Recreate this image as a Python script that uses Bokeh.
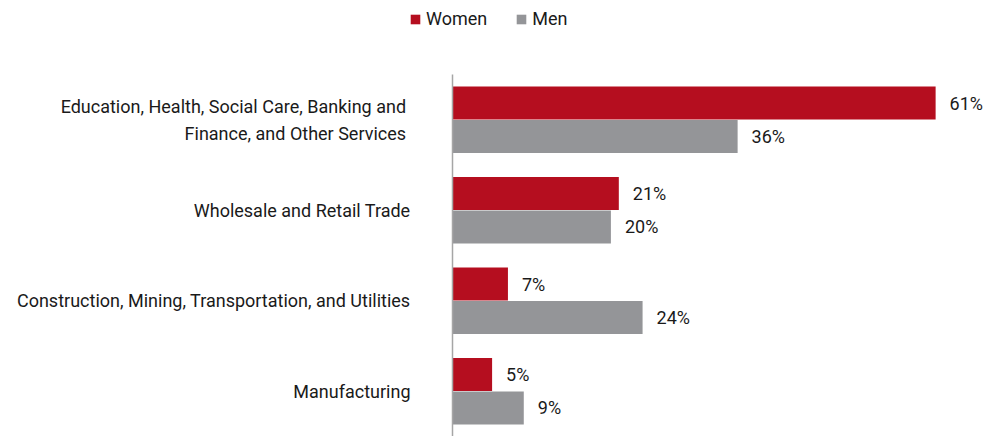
from bokeh.plotting import figure
from bokeh.models import ColumnDataSource, Legend, LegendItem, Range1d, FixedTicker
from bokeh.core.properties import value
from bokeh.embed import file_html
from bokeh.resources import INLINE

categories = [
    "Education, Health, Social Care, Banking  and\nFinance, and Other Services ",
    "Wholesale and Retail Trade",
    "Construction, Mining, Transportation, and Utilities",
    "Manufacturing",
]
women = [61, 21, 7, 5]
men = [36, 20, 24, 9]
series_names = ["Women", "Men"]

RED = "#B50E1F"
GRAY = "#949598"
FONT = "Roboto"
FS = "18px"

n = len(categories)
pos = [n - 1 - i for i in range(n)]          # top-to-bottom order
src = ColumnDataSource(dict(
    cat=categories,
    pos=pos,
    pw=[v + 0.185 for v in pos],
    pm=[v - 0.185 for v in pos],
    zero=[0] * n,
    women=women,
    men=men,
    wl=[f"{v}%" for v in women],
    ml=[f"{v}%" for v in men],
))

PX_PER_UNIT = 7.92
LEFT_BORDER = 6
AXIS_X = 452
p = figure(
    width=995, height=436,
    y_range=Range1d(-0.5, n - 0.5 + 74 / 90.5),
    x_range=Range1d(-(AXIS_X - LEFT_BORDER) / PX_PER_UNIT, (985 - AXIS_X) / PX_PER_UNIT),
    output_backend="svg", toolbar_location=None,
    min_border_left=LEFT_BORDER, min_border_right=10, min_border_bottom=0, min_border_top=0,
)

r_w = p.hbar(y="pw", right="women", left=0, height=0.365,
             source=src, fill_color=RED, line_color=None)
r_m = p.hbar(y="pm", right="men", left=0, height=0.365,
             source=src, fill_color=GRAY, line_color=None)

p.text(x="women", y="pw", text="wl", source=src,
       x_offset=14, text_baseline="middle", text_align="left",
       text_font=value(FONT), text_font_size=FS, text_color="#1a1a1a")
p.text(x="men", y="pm", text="ml", source=src,
       x_offset=14, text_baseline="middle", text_align="left",
       text_font=value(FONT), text_font_size=FS, text_color="#1a1a1a")

# category labels
p.text(x="zero", y="pos", text="cat", source=src,
       x_offset=-42, text_baseline="middle", text_align="right",
       text_font=value(FONT), text_font_size=FS, text_color="#1a1a1a",
       text_line_height=1.3)

p.xaxis.visible = False
p.xgrid.visible = False
p.ygrid.visible = False
p.outline_line_color = None

ya = p.yaxis[0]
ya.fixed_location = 0
ya.bounds = (-0.5, n - 0.5)
ya.ticker = FixedTicker(ticks=[])
ya.axis_line_color = "#A6A6A6"
ya.axis_line_width = 1.5
ya.major_tick_line_color = None
ya.minor_tick_line_color = None
ya.major_tick_out = 0
ya.major_tick_in = 0
ya.minor_tick_out = 0
ya.major_label_standoff = 0
ya.major_label_text_font_size = "0px"

legend = Legend(
    items=[LegendItem(label=series_names[0], renderers=[r_w]),
           LegendItem(label=series_names[1], renderers=[r_m])],
    orientation="horizontal", location=(409 - LEFT_BORDER, 436 - 29),
    label_text_font=FONT, label_text_font_size=FS, label_text_color="#1a1a1a",
    glyph_width=12, glyph_height=12, label_standoff=5, spacing=28,
    border_line_color=None, background_fill_alpha=0, padding=0, margin=0,
)
p.add_layout(legend, "center")

open("out.html", "w").write(file_html(p, INLINE))
